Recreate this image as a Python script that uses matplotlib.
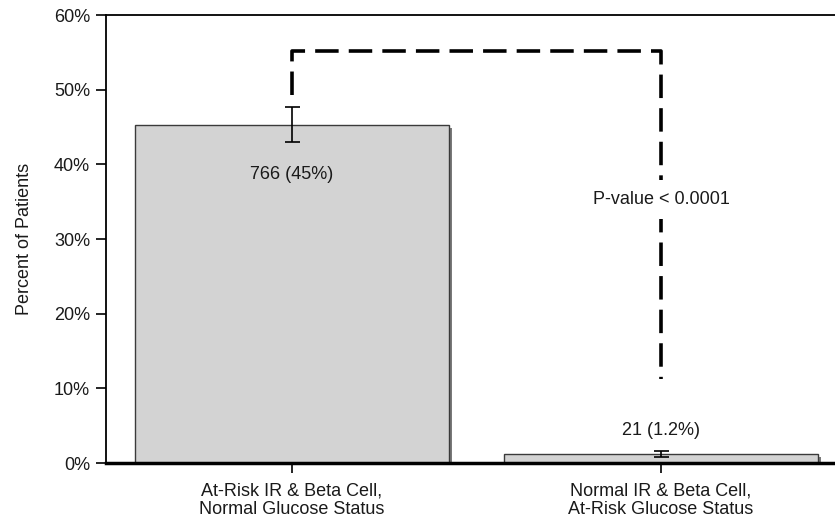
import matplotlib.pyplot as plt
import matplotlib.patheffects as pe
import numpy as np

plt.rcParams['font.family'] = ['Liberation Sans', 'DejaVu Sans']

categories = ["At-Risk IR & Beta Cell,\nNormal Glucose Status",
              "Normal IR & Beta Cell,\nAt-Risk Glucose Status"]
pct = [45.3, 1.2]
err_low = [43.0, 0.8]
err_high = [47.7, 1.6]
bar_labels = ["766 (45%)", "21 (1.2%)"]
bar_label_y = [38.7, 4.4]
bracket_top = 55.2
bracket_ends = [49.3, 11.3]
pval_text = "P-value < 0.0001"
pval_y = 35.3
yticks = [0, 10, 20, 30, 40, 50, 60]

fntsize = 13
txtcol = '#1a1a1a'
fig = plt.figure(figsize=(8.35, 5.23), dpi=100)
ax = fig.add_axes([106/835, 1-463/523, 1-106/835, (463-15)/523])

x = np.arange(len(categories))
shadow = [pe.SimplePatchShadow(offset=(2.2, -2.2), shadow_rgbFace='#7a7a7a', alpha=1.0), pe.Normal()]
ax.bar(x, pct, width=0.851, color='#d3d3d3', edgecolor='#3a3a3a', linewidth=1.0,
       path_effects=shadow, zorder=2)

lo = np.array(pct) - np.array(err_low)
hi = np.array(err_high) - np.array(pct)
ax.errorbar(x, pct, yerr=[lo, hi], fmt='none', ecolor='black', elinewidth=1.2,
            capsize=5.4, capthick=1.2, zorder=3)

for i in range(len(x)):
    ax.text(x[i], bar_label_y[i], bar_labels[i], ha='center', va='center',
            fontsize=fntsize, color=txtcol, zorder=4)

# significance bracket
ax.plot([x[0], x[0], x[1], x[1]], [bracket_ends[0], bracket_top, bracket_top, bracket_ends[1]],
        color='black', linewidth=2.6, linestyle=(0, (6.5, 2.8)), zorder=2)
ax.text(x[1], pval_y, pval_text, ha='center', va='center', fontsize=fntsize, color=txtcol, zorder=4,
        bbox=dict(facecolor='white', edgecolor='none', pad=8))

ax.set_xlim(-0.504, 1.4715)
ax.set_ylim(0, 60)
ax.set_yticks(yticks)
ax.set_yticklabels([f"{t}%" for t in yticks], fontsize=fntsize, color=txtcol)
ax.set_xticks(x)
ax.set_xticklabels(categories, fontsize=fntsize, color=txtcol, linespacing=1.15)
ax.tick_params(axis='both', direction='out', length=7.5, width=1.2)
ax.tick_params(axis='x', pad=6.5)
ax.tick_params(axis='y', pad=4)
ax.set_ylabel('Percent of Patients', fontsize=fntsize, color=txtcol, labelpad=15)

ax.spines['right'].set_visible(False)
ax.spines['left'].set_linewidth(1.3)
ax.spines['top'].set_linewidth(1.3)
ax.spines['bottom'].set_linewidth(2.5)
ax.spines['bottom'].set_zorder(5)

plt.savefig('out.png', dpi=100)
